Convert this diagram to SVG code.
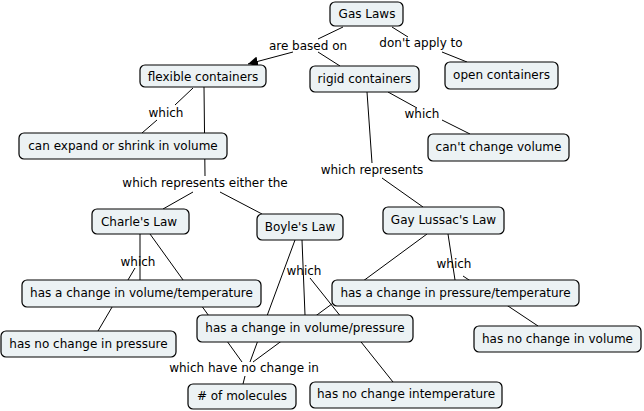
<svg xmlns="http://www.w3.org/2000/svg" width="644" height="411" viewBox="0 0 644 411">
<style>
.n rect{fill:#ecf2f4;stroke:#000;stroke-width:1.2}
text{font-family:"DejaVu Sans",Verdana,sans-serif;font-size:12px;fill:#000;text-anchor:middle;dominant-baseline:central}
.c line{stroke:#000;stroke-width:1}
</style>
<defs>
<marker id="ah" viewBox="0 0 10 10" refX="10" refY="5" markerWidth="10" markerHeight="10" markerUnits="userSpaceOnUse" orient="auto">
<path d="M0,0 L10,5 L0,10 z" fill="#000"/>
</marker>
</defs>
<rect width="644" height="411" fill="#fff"/>
<g id="connectors" class="c">
<line x1="343" y1="27" x2="318" y2="39"/>
<line x1="293" y1="52" x2="248" y2="64" marker-end="url(#ah)"/>
<line x1="318" y1="52" x2="340" y2="66"/>
<line x1="392" y1="27" x2="408" y2="37"/>
<line x1="442" y1="52" x2="467" y2="62"/>
<line x1="193" y1="88" x2="175" y2="105"/>
<line x1="157" y1="120" x2="142" y2="133"/>
<line x1="204" y1="87" x2="205" y2="176"/>
<line x1="193" y1="192" x2="163" y2="209"/>
<line x1="220" y1="192" x2="262" y2="214"/>
<line x1="388" y1="92" x2="417" y2="108"/>
<line x1="442" y1="120" x2="470" y2="134"/>
<line x1="367" y1="92" x2="372" y2="163"/>
<line x1="382" y1="178" x2="423" y2="207"/>
<line x1="140" y1="234" x2="140" y2="280"/>
<line x1="135" y1="268" x2="98" y2="331"/>
<line x1="150" y1="234" x2="242" y2="362"/>
<line x1="295" y1="240" x2="250" y2="362"/>
<line x1="427" y1="234" x2="253" y2="362"/>
<line x1="245" y1="376" x2="243" y2="384"/>
<line x1="302" y1="240" x2="305" y2="315"/>
<line x1="310" y1="278" x2="393" y2="382"/>
<line x1="448" y1="234" x2="455" y2="280"/>
<line x1="463" y1="276" x2="538" y2="326"/>
</g>
<g id="labels">
<text x="308" y="46">are based on</text>
<text x="421" y="43">don't apply to</text>
<text x="166" y="113">which</text>
<text x="422" y="114">which</text>
<text x="372" y="170">which represents</text>
<text x="205" y="183">which represents either the</text>
<text x="138" y="262">which</text>
<text x="304" y="271">which</text>
<text x="454" y="264">which</text>
<text x="244" y="368">which have no change in</text>
</g>
<g id="gas-laws" class="n"><rect x="330" y="2" width="73" height="24" rx="5"/><text x="367" y="14">Gas Laws</text></g>
<g id="flexible" class="n"><rect x="140" y="65" width="126" height="22" rx="5"/><text x="203" y="77">flexible containers</text></g>
<g id="rigid" class="n"><rect x="310" y="66" width="109" height="26" rx="5"/><text x="364.5" y="78.5">rigid containers</text></g>
<g id="open" class="n"><rect x="445" y="62" width="113" height="27" rx="5"/><text x="501.5" y="75">open containers</text></g>
<g id="expand" class="n"><rect x="19" y="133" width="208" height="26" rx="5"/><text x="123" y="146">can expand or shrink in volume</text></g>
<g id="cant-change" class="n"><rect x="428" y="134" width="141" height="27" rx="5"/><text x="498.5" y="147">can't change volume</text></g>
<g id="charles" class="n"><rect x="92" y="209" width="97" height="25" rx="5"/><text x="139" y="222">Charle's Law</text></g>
<g id="boyles" class="n"><rect x="257" y="214" width="86" height="26" rx="5"/><text x="300" y="226.5">Boyle's Law</text></g>
<g id="gay-lussac" class="n"><rect x="383" y="207" width="121" height="27" rx="5"/><text x="443.5" y="220">Gay Lussac's Law</text></g>
<g id="vol-temp" class="n"><rect x="22" y="280" width="239" height="27" rx="5"/><text x="141.5" y="293">has a change in volume/temperature</text></g>
<g id="press-temp" class="n"><rect x="332" y="280" width="247" height="26" rx="5"/><text x="455.5" y="292.5">has a change in pressure/temperature</text></g>
<g id="vol-press" class="n"><rect x="197" y="315" width="216" height="27" rx="5"/><text x="305" y="327.5">has a change in volume/pressure</text></g>
<g id="no-press" class="n"><rect x="1" y="331" width="175" height="26" rx="5"/><text x="88.5" y="343.5">has no change in pressure</text></g>
<g id="no-vol" class="n"><rect x="474" y="326" width="167" height="26" rx="5"/><text x="557.5" y="338.5">has no change in volume</text></g>
<g id="molecules" class="n"><rect x="188" y="384" width="108" height="25" rx="5"/><text x="242" y="396">#  of molecules</text></g>
<g id="no-temp" class="n"><rect x="310" y="382" width="192" height="26" rx="5"/><text x="406" y="394">has no change intemperature</text></g>
</svg>
